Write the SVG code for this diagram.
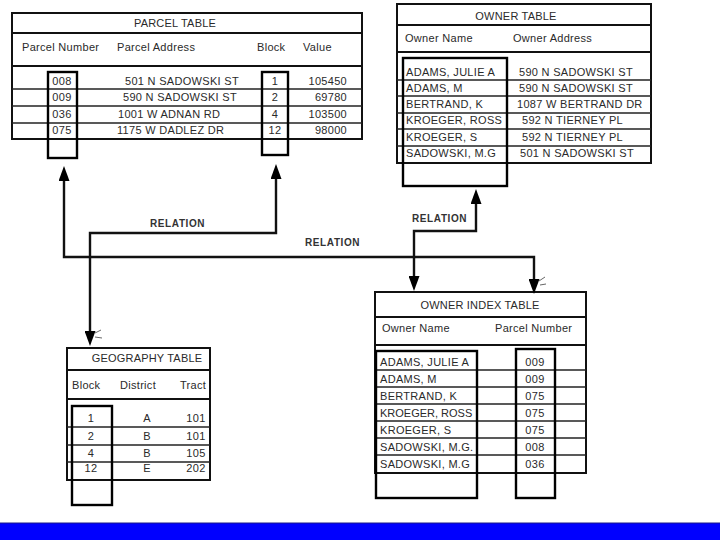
<svg xmlns="http://www.w3.org/2000/svg" width="720" height="540" viewBox="0 0 720 540">
<defs>
<style>
text{font-family:"Liberation Sans",Arial,sans-serif;fill:#2a2a2a;font-size:11px;letter-spacing:0.3px}
.title{font-size:11px;text-anchor:middle;letter-spacing:0.2px}
.mid{text-anchor:middle}
.end{text-anchor:end}
.rel{font-size:10px;font-weight:bold;letter-spacing:0.6px;fill:#333}
.frame{fill:#fff;stroke:#111;stroke-width:2}
.sep{stroke:#111;stroke-width:1.8;fill:none}
.row{stroke:#222;stroke-width:1.6;fill:none}
.key{fill:none;stroke:#000;stroke-width:2.4}
.conn{fill:none;stroke:#111;stroke-width:2.4}
.tick{fill:none;stroke:#666;stroke-width:1}
</style>
<marker id="arr" viewBox="0 0 15 11" refX="0" refY="5.5" markerWidth="15" markerHeight="11" markerUnits="userSpaceOnUse" orient="auto-start-reverse">
<path d="M0,0 L15,5.5 L0,11 Z" fill="#000"/>
</marker>
</defs>
<rect width="720" height="540" fill="#fff"/>

<g id="parcel-table">
<rect class="frame" x="12" y="13" width="350" height="126"/>
<line class="sep" x1="12" y1="33" x2="362" y2="33"/>
<line class="sep" x1="12" y1="66" x2="362" y2="66"/>
<line class="row" x1="12" y1="89" x2="362" y2="89"/>
<line class="row" x1="12" y1="106" x2="362" y2="106"/>
<line class="row" x1="12" y1="123" x2="362" y2="123"/>
<rect class="key" x="48" y="72" width="29" height="86"/>
<rect class="key" x="262" y="72" width="26" height="83"/>
<text class="title" x="175" y="27">PARCEL TABLE</text>
<text x="22" y="51">Parcel Number</text>
<text x="117" y="51">Parcel Address</text>
<text x="257" y="51">Block</text>
<text x="303" y="51">Value</text>
<text class="mid" x="62" y="85">008</text>
<text class="mid" x="62" y="101">009</text>
<text class="mid" x="62" y="118">036</text>
<text class="mid" x="62" y="134">075</text>
<text x="125" y="85">501 N SADOWSKI ST</text>
<text x="123" y="101">590 N SADOWSKI ST</text>
<text x="118" y="118">1001 W ADNAN RD</text>
<text x="117" y="134">1175 W DADLEZ DR</text>
<text class="mid" x="275" y="85">1</text>
<text class="mid" x="275" y="101">2</text>
<text class="mid" x="275" y="118">4</text>
<text class="mid" x="275" y="134">12</text>
<text class="end" x="347" y="85">105450</text>
<text class="end" x="347" y="101">69780</text>
<text class="end" x="347" y="118">103500</text>
<text class="end" x="347" y="134">98000</text>
</g>

<g id="owner-table">
<rect class="frame" x="397" y="4" width="254" height="159"/>
<line class="sep" x1="397" y1="25" x2="651" y2="25"/>
<line class="sep" x1="397" y1="52" x2="651" y2="52"/>
<line class="row" x1="397" y1="80" x2="651" y2="80"/>
<line class="row" x1="397" y1="96" x2="651" y2="96"/>
<line class="row" x1="397" y1="113" x2="651" y2="113"/>
<line class="row" x1="397" y1="129" x2="651" y2="129"/>
<line class="row" x1="397" y1="146" x2="651" y2="146"/>
<rect class="key" x="403" y="58" width="104" height="128"/>
<text class="title" x="516" y="20">OWNER TABLE</text>
<text x="405" y="42">Owner Name</text>
<text x="513" y="42">Owner Address</text>
<text x="406" y="76">ADAMS, JULIE A</text>
<text x="406" y="92">ADAMS, M</text>
<text x="406" y="108">BERTRAND, K</text>
<text x="406" y="124">KROEGER, ROSS</text>
<text x="406" y="141">KROEGER, S</text>
<text x="406" y="157">SADOWSKI, M.G</text>
<text x="519" y="76">590 N SADOWSKI ST</text>
<text x="519" y="92">590 N SADOWSKI ST</text>
<text x="517" y="108">1087 W BERTRAND DR</text>
<text x="522" y="124">592 N TIERNEY PL</text>
<text x="522" y="141">592 N TIERNEY PL</text>
<text x="520" y="157">501 N SADOWSKI ST</text>
</g>

<g id="geography-table">
<rect class="frame" x="67" y="348" width="143" height="132"/>
<line class="sep" x1="67" y1="370" x2="210" y2="370"/>
<line class="sep" x1="67" y1="399" x2="210" y2="399"/>
<line class="row" x1="67" y1="427" x2="210" y2="427"/>
<line class="row" x1="67" y1="445" x2="210" y2="445"/>
<line class="row" x1="67" y1="462" x2="210" y2="462"/>
<rect class="key" x="72" y="406" width="40" height="99"/>
<text class="title" x="147" y="362">GEOGRAPHY TABLE</text>
<text x="72" y="389">Block</text>
<text x="120" y="389">District</text>
<text x="180" y="389">Tract</text>
<text class="mid" x="91" y="422">1</text>
<text class="mid" x="91" y="440">2</text>
<text class="mid" x="91" y="457">4</text>
<text class="mid" x="91" y="472">12</text>
<text class="mid" x="147" y="422">A</text>
<text class="mid" x="147" y="440">B</text>
<text class="mid" x="147" y="457">B</text>
<text class="mid" x="147" y="472">E</text>
<text class="mid" x="196" y="422">101</text>
<text class="mid" x="196" y="440">101</text>
<text class="mid" x="196" y="457">105</text>
<text class="mid" x="196" y="472">202</text>
</g>

<g id="owner-index-table">
<rect class="frame" x="375" y="292" width="211" height="181"/>
<line class="sep" x1="375" y1="317" x2="586" y2="317"/>
<line class="sep" x1="375" y1="345" x2="586" y2="345"/>
<line class="row" x1="375" y1="370" x2="586" y2="370"/>
<line class="row" x1="375" y1="387" x2="586" y2="387"/>
<line class="row" x1="375" y1="404" x2="586" y2="404"/>
<line class="row" x1="375" y1="421" x2="586" y2="421"/>
<line class="row" x1="375" y1="438" x2="586" y2="438"/>
<line class="row" x1="375" y1="455" x2="586" y2="455"/>
<rect class="key" x="376" y="351" width="101" height="147"/>
<rect class="key" x="516" y="349" width="39" height="149"/>
<text class="title" x="480" y="309">OWNER INDEX TABLE</text>
<text x="382" y="332">Owner Name</text>
<text x="495" y="332">Parcel Number</text>
<text x="380" y="366">ADAMS, JULIE A</text>
<text x="380" y="383">ADAMS, M</text>
<text x="380" y="400">BERTRAND, K</text>
<text x="380" y="417" style="letter-spacing:0">KROEGER, ROSS</text>
<text x="380" y="434">KROEGER, S</text>
<text x="380" y="451">SADOWSKI, M.G.</text>
<text x="380" y="468">SADOWSKI, M.G</text>
<text class="mid" x="535" y="366">009</text>
<text class="mid" x="535" y="383">009</text>
<text class="mid" x="535" y="400">075</text>
<text class="mid" x="535" y="417">075</text>
<text class="mid" x="535" y="434">075</text>
<text class="mid" x="535" y="451">008</text>
<text class="mid" x="535" y="468">036</text>
</g>

<g id="connectors">
<path class="conn" d="M64,181 V257 H534 V279" marker-start="url(#arr)" marker-end="url(#arr)"/>
<path class="conn" d="M276,179 V233 H90 V331" marker-start="url(#arr)" marker-end="url(#arr)"/>
<path class="conn" d="M476,204 V231 H414 V276" marker-start="url(#arr)" marker-end="url(#arr)"/>
<path class="tick" d="M95,333 L101,330 M95,337 L102,338"/>
<path class="tick" d="M539,281 L545,277 M540,285 L546,284"/>
<text class="rel" x="150" y="227">RELATION</text>
<text class="rel" x="305" y="246">RELATION</text>
<text class="rel" x="412" y="222">RELATION</text>
</g>

<rect x="0" y="523" width="720" height="17" fill="#0000ff"/>
<line x1="0" y1="523" x2="720" y2="523" stroke="#1a1a8a" stroke-width="1"/>
</svg>
